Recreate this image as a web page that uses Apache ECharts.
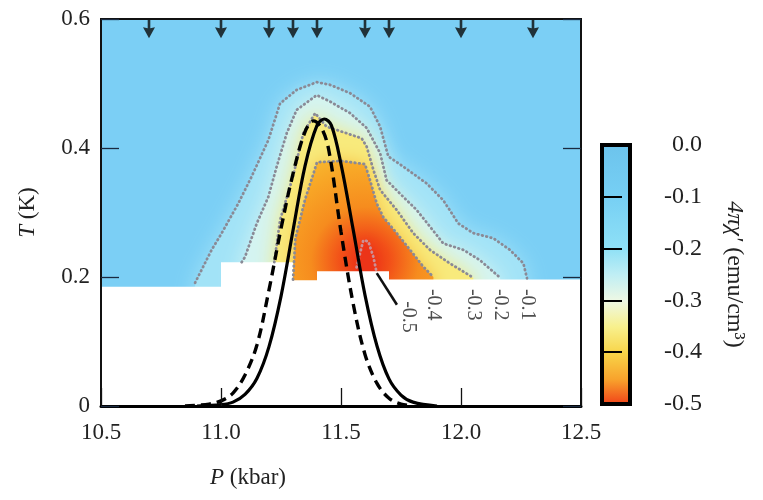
<!DOCTYPE html>
<html>
<head>
<meta charset="utf-8">
<script src="https://cdn.jsdelivr.net/npm/echarts@6/dist/echarts.min.js"></script>
<style>
  html, body { margin: 0; padding: 0; background: #fff; }
  #chart { width: 763px; height: 500px; }
</style>
</head>
<body>
<div id="chart"></div>
<script>
// ---- data ---------------------------------------------------------------
// axis ticks
const pressureTicks = [10.5, 11.0, 11.5, 12.0, 12.5];      // P (kbar)
const temperatureTicks = [0, 0.2, 0.4, 0.6];               // T (K)
const chiTicks = [0.0, -0.1, -0.2, -0.3, -0.4, -0.5];      // 4πχ' (emu/cm^3)

// pressures at which the susceptibility was measured (arrows on top)
const measuredP = [10.7, 11.0, 11.2, 11.3, 11.4, 11.6, 11.7, 12.0, 12.3];

// lowest temperature reached: pressure bin edges and floor temperature per bin
const floorEdges = [10.5, 11.0, 11.3, 11.4, 11.7, 12.5];
const floorT = [0.185, 0.223, 0.195, 0.209, 0.196];

// iso-susceptibility contours, [P, T]
const contourLevels = [-0.1, -0.2, -0.3, -0.4, -0.5];
const contourM01 = [[10.892,0.191],[10.961,0.242],[11.003,0.268],[11.072,0.314],[11.128,0.356],
  [11.197,0.412],[11.246,0.469],[11.315,0.490],[11.399,0.502],[11.454,0.498],[11.538,0.485],
  [11.621,0.464],[11.663,0.433],[11.697,0.387],[11.760,0.371],[11.857,0.345],[11.926,0.319],
  [11.989,0.283],[12.051,0.268],[12.135,0.260],[12.204,0.242],[12.260,0.221],[12.275,0.198]];
const contourM02 = [[11.086,0.223],[11.100,0.231],[11.149,0.283],[11.197,0.324],[11.232,0.371],
  [11.274,0.423],[11.315,0.459],[11.399,0.482],[11.454,0.472],[11.538,0.454],[11.607,0.431],
  [11.663,0.392],[11.690,0.350],[11.760,0.324],[11.815,0.304],[11.871,0.278],[11.926,0.252],
  [12.010,0.242],[12.079,0.226],[12.163,0.199]];
const contourM03 = [[11.222,0.223],[11.246,0.288],[11.300,0.356],[11.343,0.423],[11.392,0.454],
  [11.440,0.433],[11.482,0.428],[11.586,0.415],[11.607,0.402],[11.635,0.366],[11.663,0.335],
  [11.732,0.304],[11.801,0.268],[11.871,0.242],[11.954,0.221],[12.051,0.199]];
const contourM04 = [[11.300,0.196],[11.310,0.260],[11.350,0.320],[11.385,0.360],[11.400,0.378],
  [11.500,0.380],[11.600,0.375],[11.621,0.350],[11.649,0.314],[11.676,0.293],[11.732,0.268],
  [11.788,0.242],[11.843,0.216],[11.885,0.200]];
const contourM05 = [[11.565,0.215],[11.593,0.257],[11.614,0.255],[11.635,0.231],[11.649,0.206]];

// superconducting transition temperature curves, [P, T]
const tcSolid = [[10.90,0.000],[11.00,0.002],[11.05,0.006],[11.10,0.018],[11.15,0.043],[11.20,0.092],
  [11.25,0.170],[11.30,0.272],[11.35,0.372],[11.40,0.435],[11.43,0.445],[11.46,0.435],[11.50,0.375],
  [11.55,0.275],[11.60,0.172],[11.65,0.093],[11.70,0.042],[11.75,0.017],[11.80,0.006],[11.90,0.000]];
const tcDashed = [[10.85,0.000],[10.95,0.003],[11.00,0.008],[11.05,0.020],[11.10,0.048],[11.15,0.095],
  [11.20,0.180],[11.25,0.275],[11.30,0.360],[11.35,0.425],[11.385,0.442],[11.42,0.430],[11.45,0.395],
  [11.50,0.270],[11.55,0.160],[11.60,0.080],[11.65,0.035],[11.70,0.012],[11.75,0.003],[11.80,0.000]];

// ---- styles -------------------------------------------------------------
const SERIF = '"Liberation Serif", "DejaVu Serif", serif';
const BG_BLUE = '#7bcff5';
const colorbarStops = [
  [0.00, '#6cc3ec'], [0.20, '#76cff4'], [0.40, '#8ee0f6'], [0.50, '#bfeef4'],
  [0.60, '#eef8e4'], [0.70, '#f8f08c'], [0.80, '#f8d448'], [0.90, '#f8a22c'], [1.00, '#f03c18']
];
const bandStyles = [
  { fill: '#a2e3f7', glow: 22 },
  { fill: '#d4f4f2', glow: 22 },
  { fill: '#f8ea7c', glow: 20 },
  { fill: null, glowColor: '#f8c040', glow: 18 },
  { fill: '#ec3418', glow: 12 }
];
const contours = [contourM01, contourM02, contourM03, contourM04, contourM05];

function bandSeries(points, idx) {
  const st = bandStyles[idx];
  return {
    type: 'custom', xAxisIndex: 0, yAxisIndex: 0, clip: true, silent: true, z: 2 + idx,
    data: points,
    renderItem: function (params, api) {
      if (params.dataIndex !== 0) return;
      const pts = points.map(p => api.coord(p));
      pts.unshift(api.coord([points[0][0], 0.1]));
      pts.push(api.coord([points[points.length - 1][0], 0.1]));
      let fill = st.fill;
      if (!fill) {
        // reddest around the middle of the dome, just above the floor
        const c = api.coord([11.6, 0.225]);
        fill = new echarts.graphic.RadialGradient(c[0], c[1], 120, [
          { offset: 0, color: '#ec2c14' }, { offset: 0.2, color: '#f24e18' },
          { offset: 0.45, color: '#f68c1e' }, { offset: 0.75, color: '#f8a626' },
          { offset: 1, color: '#f8be32' }
        ], true);
      }
      return {
        type: 'polygon', shape: { points: pts },
        style: { fill: fill, shadowBlur: st.glow, shadowColor: st.glowColor || st.fill }
      };
    }
  };
}

function floorPolygon() {
  const pts = [[floorEdges[0], 0]];
  for (let i = 0; i < floorT.length; i++) {
    pts.push([floorEdges[i], floorT[i]]);
    pts.push([floorEdges[i + 1], floorT[i]]);
  }
  pts.push([floorEdges[floorEdges.length - 1], 0]);
  return pts;
}

const contourSeries = contours.map((c, i) => ({
  type: 'line', xAxisIndex: 0, yAxisIndex: 0, data: c, symbol: 'none', silent: true, z: 9,
  lineStyle: { color: i === 4 ? '#cc9096' : '#8a8a96', width: 2.8, type: [0.6, 3.8], cap: 'round' }
}));

// contour value labels sit below the floor at the end of each contour
const labelData = contours.slice(0, 4).map((c, i) => [c[c.length - 1][0], 0.157, contourLevels[i].toFixed(1)]);
labelData.push([11.78, 0.138, contourLevels[4].toFixed(1)]);

const chart = echarts.init(document.getElementById('chart'));
chart.setOption({
  animation: false,
  backgroundColor: '#fff',
  grid: [
    { left: 101, top: 19, width: 480, height: 387, show: true, z: 11,
      backgroundColor: 'transparent', borderColor: '#111', borderWidth: 2 },
    { left: 602, top: 145, width: 28, height: 259 }
  ],
  xAxis: [
    { gridIndex: 0, type: 'value', min: pressureTicks[0], max: pressureTicks[pressureTicks.length - 1],
      interval: 0.5, z: 12,
      axisLine: { lineStyle: { color: '#000', width: 3 } },
      axisTick: { inside: true, length: 18, lineStyle: { color: '#111', width: 1.3 } },
      axisLabel: { margin: 15, fontFamily: SERIF, fontSize: 23, color: '#222',
        formatter: v => v.toFixed(1) },
      splitLine: { show: false } },
    { gridIndex: 1, type: 'value', min: 0, max: 1, show: false }
  ],
  yAxis: [
    { gridIndex: 0, type: 'value', min: temperatureTicks[0], max: temperatureTicks[temperatureTicks.length - 1],
      interval: 0.2, z: 12,
      axisLine: { show: true, lineStyle: { color: '#111', width: 2 } },
      axisTick: { inside: true, length: 18, lineStyle: { color: '#1a2a40', width: 1.3 } },
      axisLabel: { margin: 11, fontFamily: SERIF, fontSize: 23, color: '#222',
        formatter: v => (v === 0 ? '0' : v.toFixed(1)) },
      splitLine: { show: false },
      name: '{i|T} (K)', nameLocation: 'middle', nameGap: 62, nameRotate: 90,
      nameTextStyle: { fontFamily: SERIF, fontSize: 23, color: '#222',
        rich: { i: { fontFamily: SERIF, fontSize: 23, fontStyle: 'italic', color: '#222' } } } },
    { gridIndex: 0, type: 'value', position: 'right', min: 0, max: 0.6, interval: 0.2, z: 12,
      axisLine: { show: false },
      axisTick: { inside: true, length: 18, lineStyle: { color: '#1a2a40', width: 1.3 } },
      axisLabel: { show: false }, splitLine: { show: false } },
    { gridIndex: 1, type: 'value', position: 'right', min: chiTicks[chiTicks.length - 1], max: chiTicks[0],
      interval: 0.1, z: 12,
      axisLine: { show: false },
      axisTick: { show: true, inside: false, length: 20, lineStyle: { color: '#000', width: 2 } },
      axisLabel: { align: 'right', margin: 72, fontFamily: SERIF, fontSize: 24, color: '#222',
        formatter: v => v.toFixed(1) },
      splitLine: { show: false },
      name: '{i|4πχ′} (emu/cm³)', nameLocation: 'middle', nameGap: 92, nameRotate: -90,
      nameTextStyle: { fontFamily: SERIF, fontSize: 24, color: '#222',
        rich: { i: { fontFamily: SERIF, fontSize: 24, fontStyle: 'italic', color: '#222' } } } }
  ],
  graphic: [
    { type: 'text', x: 248, y: 478, z: 20,
      style: { text: '{i|P} (kbar)', align: 'center', verticalAlign: 'middle',
        font: '23px ' + SERIF, fill: '#222',
        rich: { i: { fontFamily: SERIF, fontSize: 23, fontStyle: 'italic', fill: '#222' } } } }
  ],
  series: [
    // background of the susceptibility map
    { type: 'custom', xAxisIndex: 0, yAxisIndex: 0, silent: true, z: 1, clip: true,
      data: [[pressureTicks[0], temperatureTicks[0]], [pressureTicks[4], temperatureTicks[3]]],
      renderItem: function (params, api) {
        if (params.dataIndex !== 0) return;
        const a = api.coord([pressureTicks[0], temperatureTicks[3]]);
        const b = api.coord([pressureTicks[4], temperatureTicks[0]]);
        return { type: 'rect', shape: { x: a[0], y: a[1], width: b[0] - a[0], height: b[1] - a[1] },
          style: { fill: BG_BLUE } };
      } },
    ...contours.map((c, i) => bandSeries(c, i)),
    // region below the lowest measured temperature
    { type: 'custom', xAxisIndex: 0, yAxisIndex: 0, silent: true, z: 8, clip: true,
      data: floorPolygon(),
      renderItem: function (params, api) {
        if (params.dataIndex !== 0) return;
        const pts = floorPolygon().map(p => api.coord(p));
        return { type: 'polygon', shape: { points: pts }, style: { fill: '#ffffff' } };
      } },
    ...contourSeries,
    // leader from the -0.5 contour to its label
    { type: 'line', xAxisIndex: 0, yAxisIndex: 0, symbol: 'none', silent: true, z: 9,
      data: [contourM05[contourM05.length - 1], [11.733, 0.157]],
      lineStyle: { color: '#111', width: 2.6 } },
    { type: 'scatter', xAxisIndex: 0, yAxisIndex: 0, silent: true, z: 10, symbolSize: 0,
      data: labelData,
      label: { show: true, position: 'inside', rotate: -90, formatter: p => p.value[2],
        fontFamily: SERIF, fontSize: 20, color: '#222' } },
    { type: 'line', xAxisIndex: 0, yAxisIndex: 0, data: tcDashed, symbol: 'none', smooth: 0.35,
      silent: true, z: 10, lineStyle: { color: '#000', width: 3.4, type: [10, 6] } },
    { type: 'line', xAxisIndex: 0, yAxisIndex: 0, data: tcSolid, symbol: 'none', smooth: 0.35,
      silent: true, z: 10, lineStyle: { color: '#000', width: 3.2 } },
    // measured pressures
    { type: 'scatter', xAxisIndex: 0, yAxisIndex: 0, silent: true, z: 10,
      data: measuredP.map(p => [p, 0.585]),
      symbol: 'path://M4.3,0 L6.7,0 L6.7,9 L11,8 L5.5,19 L0,8 L4.3,9 Z', symbolSize: [12, 19],
      itemStyle: { color: '#0a0a0a' } },
    // colour scale
    { type: 'custom', xAxisIndex: 1, yAxisIndex: 2, silent: true, z: 5,
      data: [[0, chiTicks[0]], [1, chiTicks[chiTicks.length - 1]]],
      renderItem: function (params, api) {
        if (params.dataIndex !== 0) return;
        const a = api.coord([0, chiTicks[0]]);
        const b = api.coord([1, chiTicks[chiTicks.length - 1]]);
        return { type: 'rect', shape: { x: a[0], y: a[1], width: b[0] - a[0], height: b[1] - a[1] },
          style: { fill: new echarts.graphic.LinearGradient(0, 0, 0, 1,
              colorbarStops.map(s => ({ offset: s[0], color: s[1] }))),
            stroke: '#000', lineWidth: 4 } };
      } }
  ]
});
</script>
</body>
</html>
